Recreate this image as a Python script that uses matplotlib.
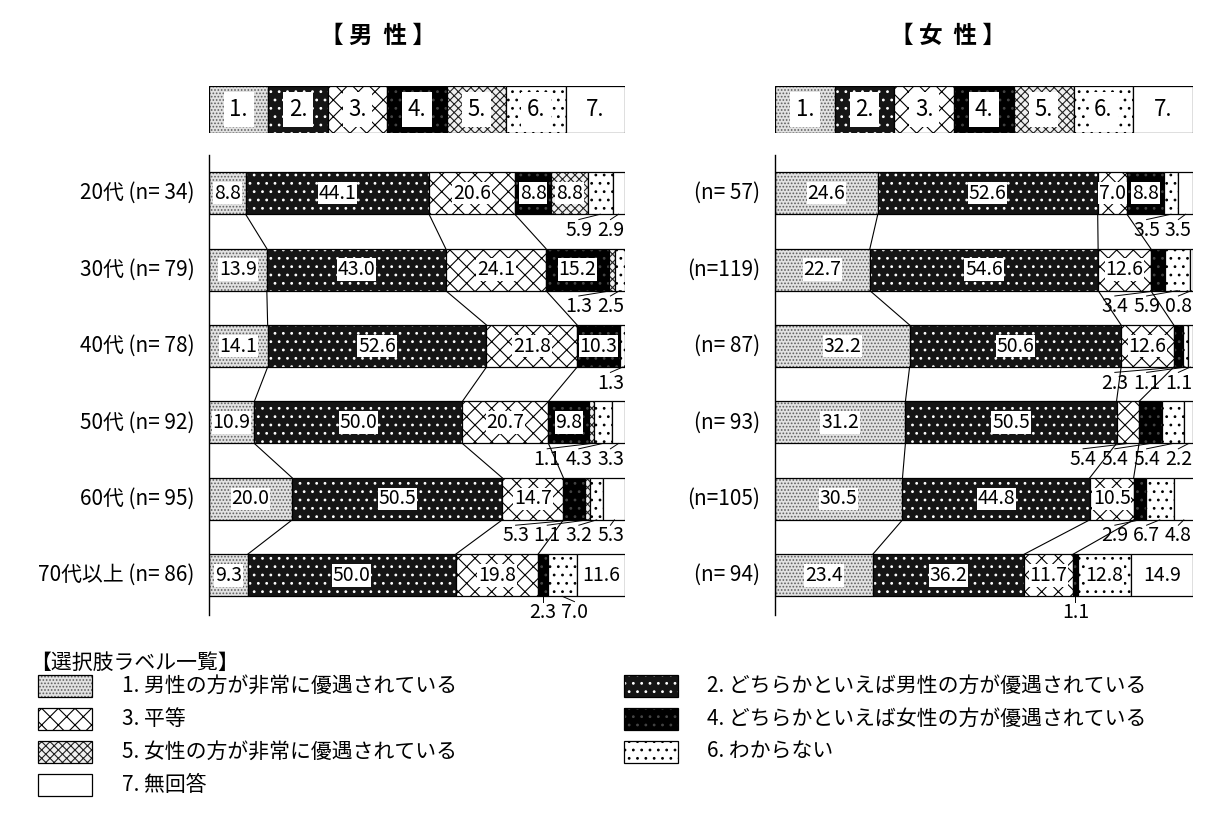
import numpy as np
import matplotlib.pyplot as plt
from matplotlib.patches import Rectangle

plt.rcParams['font.family'] = ['Noto Sans CJK JP', 'DejaVu Sans']
plt.rcParams['hatch.linewidth'] = 0.8

# data (percent)
male_rows = ['20代 (n= 34)', '30代 (n= 79)', '40代 (n= 78)',
             '50代 (n= 92)', '60代 (n= 95)', '70代以上 (n= 86)']
female_rows = ['(n= 57)', '(n=119)', '(n= 87)', '(n= 93)', '(n=105)', '(n= 94)']

male_vals = [
    [8.8, 44.1, 20.6, 8.8, 8.8, 5.9, 2.9],
    [13.9, 43.0, 24.1, 15.2, 1.3, 2.5, 0.0],
    [14.1, 52.6, 21.8, 10.3, 0.0, 1.3, 0.0],
    [10.9, 50.0, 20.7, 9.8, 1.1, 4.3, 3.3],
    [20.0, 50.5, 14.7, 5.3, 1.1, 3.2, 5.3],
    [9.3, 50.0, 19.8, 2.3, 0.0, 7.0, 11.6],
]
female_vals = [
    [24.6, 52.6, 7.0, 8.8, 0.0, 3.5, 3.5],
    [22.7, 54.6, 12.6, 3.4, 0.0, 5.9, 0.8],
    [32.2, 50.6, 12.6, 2.3, 0.0, 1.1, 1.1],
    [31.2, 50.5, 5.4, 5.4, 0.0, 5.4, 2.2],
    [30.5, 44.8, 10.5, 2.9, 0.0, 6.7, 4.8],
    [23.4, 36.2, 11.7, 1.1, 0.0, 12.8, 14.9],
]

codes = ['1.', '2.', '3.', '4.', '5.', '6.', '7.']
legend_labels = ['1. 男性の方が非常に優遇されている',
                 '2. どちらかといえば男性の方が優遇されている',
                 '3. 平等',
                 '4. どちらかといえば女性の方が優遇されている',
                 '5. 女性の方が非常に優遇されている',
                 '6. わからない',
                 '7. 無回答']

# fill styles: (face, hatch colour, hatch)
styles = [
    ('#e2e2e2', '#606060', '.....'),
    ('#151515', 'white', '..'),
    ('white', 'black', 'xx'),
    ('black', '#444444', '..'),
    ('#f0f0f0', '#222222', 'xxxx'),
    ('white', 'black', '..'),
    ('white', 'white', ''),
]

W, H = 1205, 830
fig = plt.figure(figsize=(W / 100, H / 100), dpi=100)


def px_axes(x0, y0, x1, y1):
    return fig.add_axes([x0 / W, 1 - y1 / H, (x1 - x0) / W, (y1 - y0) / H])


def draw_seg(ax, y, left, width, k, height):
    face, hc, hatch = styles[k]
    ax.barh(y, width, left=left, height=height, color=face, edgecolor=hc,
            hatch=hatch, linewidth=0)
    ax.barh(y, width, left=left, height=height, fill=False,
            edgecolor='black', linewidth=0.9)


def panel(x0, x1, rows, vals, force_out):
    # top key strip
    ks = px_axes(x0, 86, x1, 133)
    for k in range(7):
        draw_seg(ks, 0, k, 1, k, 1)
        ks.text(k + 0.5, 0, codes[k], ha='center', va='center', fontsize=16,
                bbox=dict(facecolor='white', edgecolor='none', pad=4))
    ks.set_xlim(0, 7)
    ks.set_ylim(-0.5, 0.5)
    ks.axis('off')

    ax = px_axes(x0, 155, x1, 615)
    h = 0.55
    cums = []
    for i, v in enumerate(vals):
        v = np.array(v)
        left = np.concatenate([[0], np.cumsum(v)[:-1]])
        cums.append(np.cumsum(v))
        outs = []
        for k in range(7):
            if v[k] <= 0:
                continue
            draw_seg(ax, i, left[k], v[k], k, h)
            c = left[k] + v[k] / 2
            if v[k] >= 7 and (i, k) not in force_out:
                ax.text(c, i, f'{v[k]:.1f}', ha='center', va='center',
                        fontsize=14, zorder=5,
                        bbox=dict(facecolor='white', edgecolor='none', pad=0.5))
            else:
                outs.append([c, v[k]])
        # spread small labels below the bar
        if outs:
            gap = 7.6
            xs = [o[0] for o in outs]
            for j in range(1, len(xs)):
                xs[j] = max(xs[j], xs[j - 1] + gap)
            xs[-1] = min(xs[-1], 96.5)
            for j in range(len(xs) - 2, -1, -1):
                xs[j] = min(xs[j], xs[j + 1] - gap)
            for (c, val), lx in zip(outs, xs):
                ax.plot([c, lx], [i + h / 2, i + h / 2 + 0.07], color='black',
                        lw=0.7, zorder=4)
                ax.text(lx, i + h / 2 + 0.21, f'{val:.1f}', ha='center',
                        va='center', fontsize=14, zorder=5)
        ax.text(-0.035, i, rows[i], transform=ax.get_yaxis_transform(),
                ha='right', va='center', fontsize=15)
    # connector lines between neighbouring rows
    for i in range(len(vals) - 1):
        for k in range(3):
            ax.plot([cums[i][k], cums[i + 1][k]], [i + h / 2, i + 1 - h / 2],
                    color='black', lw=0.8, zorder=3)
    ax.set_xlim(0, 100)
    ax.set_ylim(5.52, -0.5)
    for s in ['top', 'right', 'bottom']:
        ax.spines[s].set_visible(False)
    ax.spines['left'].set_linewidth(1.0)
    ax.set_xticks([])
    ax.set_yticks([])
    ax.patch.set_alpha(0)


panel(209, 625, male_rows, male_vals, force_out={(5, 5)})
panel(775, 1193, female_rows, female_vals, force_out=set())

# overlay for titles and the option list
ov = fig.add_axes([0, 0, 1, 1])
ov.set_xlim(0, W)
ov.set_ylim(H, 0)
ov.axis('off')
ov.text(378, 36, '【 男  性 】', ha='center', va='center', fontsize=17, fontweight='bold')
ov.text(948, 36, '【 女  性 】', ha='center', va='center', fontsize=17, fontweight='bold')

ov.text(30, 663, '【選択肢ラベル一覧】', ha='left', va='center', fontsize=15)
row_y = [686, 719, 752, 785]
for k in range(7):
    col = k % 2
    r = k // 2
    bx = 38 if col == 0 else 624
    tx = 122 if col == 0 else 707
    face, hc, hatch = styles[k]
    ov.add_patch(Rectangle((bx, row_y[r] - 11), 54, 22, facecolor=face,
                           edgecolor=hc, hatch=hatch, linewidth=0))
    ov.add_patch(Rectangle((bx, row_y[r] - 11), 54, 22, fill=False,
                           edgecolor='black', linewidth=0.9))
    ov.text(tx, row_y[r], legend_labels[k], ha='left', va='center', fontsize=15)

fig.savefig('out.png', dpi=100)
